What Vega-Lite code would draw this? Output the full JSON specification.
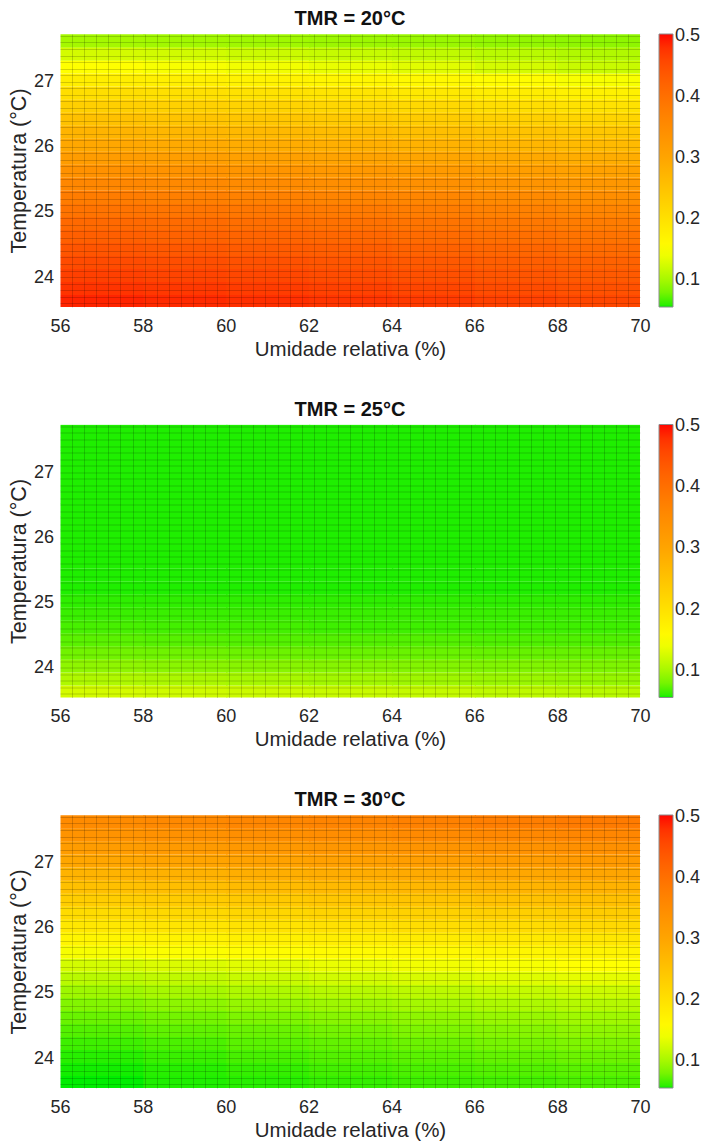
{
  "$schema": "https://vega.github.io/schema/vega-lite/v6.json",
  "background": "white",
  "padding": {"left": 8, "top": 9, "right": 2, "bottom": 0},
  "spacing": 39.5,
  "config": {
    "font": "Liberation Sans",
    "view": {"stroke": null},
    "axis": {"labelFont": "Liberation Sans", "labelFontSize": 18, "labelColor": "#262626", "titleFont": "Liberation Sans", "titleFontSize": 20.5, "titleFontWeight": "normal", "titleColor": "#262626", "domain": false, "ticks": false, "tickSize": 0, "labelFlush": false},
    "axisLeft": {"titleFontSize": 21.5},
    "legend": {"labelFont": "Liberation Sans", "labelFontSize": 18, "labelColor": "#262626", "labelOffset": 4, "offset": 19, "padding": 0, "gradientStrokeColor": "#8c8c8c", "gradientStrokeWidth": 1, "labelOverlap": false},
    "title": {"font": "Liberation Sans", "fontSize": 20, "fontWeight": "bold", "color": "#111111", "offset": 5, "baseline": "bottom", "anchor": "middle"}
  },
  "datasets": {
    "a": [
      {"h":56,"t":23.53,"v":0.49},{"h":58,"t":23.53,"v":0.486},{"h":60,"t":23.53,"v":0.482},{"h":62,"t":23.53,"v":0.477},{"h":64,"t":23.53,"v":0.472},{"h":66,"t":23.53,"v":0.465},{"h":68,"t":23.53,"v":0.458},
      {"h":56,"t":23.73,"v":0.478},{"h":58,"t":23.73,"v":0.474},{"h":60,"t":23.73,"v":0.47},{"h":62,"t":23.73,"v":0.465},{"h":64,"t":23.73,"v":0.46},{"h":66,"t":23.73,"v":0.453},{"h":68,"t":23.73,"v":0.446},
      {"h":56,"t":23.93,"v":0.466},{"h":58,"t":23.93,"v":0.462},{"h":60,"t":23.93,"v":0.458},{"h":62,"t":23.93,"v":0.453},{"h":64,"t":23.93,"v":0.448},{"h":66,"t":23.93,"v":0.441},{"h":68,"t":23.93,"v":0.434},
      {"h":56,"t":24.13,"v":0.454},{"h":58,"t":24.13,"v":0.45},{"h":60,"t":24.13,"v":0.446},{"h":62,"t":24.13,"v":0.441},{"h":64,"t":24.13,"v":0.436},{"h":66,"t":24.13,"v":0.429},{"h":68,"t":24.13,"v":0.422},
      {"h":56,"t":24.33,"v":0.441},{"h":58,"t":24.33,"v":0.437},{"h":60,"t":24.33,"v":0.433},{"h":62,"t":24.33,"v":0.428},{"h":64,"t":24.33,"v":0.423},{"h":66,"t":24.33,"v":0.416},{"h":68,"t":24.33,"v":0.409},
      {"h":56,"t":24.53,"v":0.427},{"h":58,"t":24.53,"v":0.423},{"h":60,"t":24.53,"v":0.419},{"h":62,"t":24.53,"v":0.414},{"h":64,"t":24.53,"v":0.409},{"h":66,"t":24.53,"v":0.402},{"h":68,"t":24.53,"v":0.395},
      {"h":56,"t":24.73,"v":0.412},{"h":58,"t":24.73,"v":0.408},{"h":60,"t":24.73,"v":0.404},{"h":62,"t":24.73,"v":0.399},{"h":64,"t":24.73,"v":0.394},{"h":66,"t":24.73,"v":0.387},{"h":68,"t":24.73,"v":0.38},
      {"h":56,"t":24.93,"v":0.396},{"h":58,"t":24.93,"v":0.392},{"h":60,"t":24.93,"v":0.388},{"h":62,"t":24.93,"v":0.383},{"h":64,"t":24.93,"v":0.378},{"h":66,"t":24.93,"v":0.371},{"h":68,"t":24.93,"v":0.364},
      {"h":56,"t":25.13,"v":0.379},{"h":58,"t":25.13,"v":0.375},{"h":60,"t":25.13,"v":0.371},{"h":62,"t":25.13,"v":0.366},{"h":64,"t":25.13,"v":0.361},{"h":66,"t":25.13,"v":0.354},{"h":68,"t":25.13,"v":0.347},
      {"h":56,"t":25.33,"v":0.36},{"h":58,"t":25.33,"v":0.356},{"h":60,"t":25.33,"v":0.352},{"h":62,"t":25.33,"v":0.347},{"h":64,"t":25.33,"v":0.342},{"h":66,"t":25.33,"v":0.335},{"h":68,"t":25.33,"v":0.328},
      {"h":56,"t":25.53,"v":0.34},{"h":58,"t":25.53,"v":0.336},{"h":60,"t":25.53,"v":0.332},{"h":62,"t":25.53,"v":0.327},{"h":64,"t":25.53,"v":0.322},{"h":66,"t":25.53,"v":0.315},{"h":68,"t":25.53,"v":0.308},
      {"h":56,"t":25.73,"v":0.318},{"h":58,"t":25.73,"v":0.314},{"h":60,"t":25.73,"v":0.31},{"h":62,"t":25.73,"v":0.305},{"h":64,"t":25.73,"v":0.3},{"h":66,"t":25.73,"v":0.293},{"h":68,"t":25.73,"v":0.286},
      {"h":56,"t":25.93,"v":0.296},{"h":58,"t":25.93,"v":0.292},{"h":60,"t":25.93,"v":0.288},{"h":62,"t":25.93,"v":0.283},{"h":64,"t":25.93,"v":0.278},{"h":66,"t":25.93,"v":0.271},{"h":68,"t":25.93,"v":0.264},
      {"h":56,"t":26.13,"v":0.274},{"h":58,"t":26.13,"v":0.27},{"h":60,"t":26.13,"v":0.266},{"h":62,"t":26.13,"v":0.261},{"h":64,"t":26.13,"v":0.256},{"h":66,"t":26.13,"v":0.249},{"h":68,"t":26.13,"v":0.242},
      {"h":56,"t":26.33,"v":0.252},{"h":58,"t":26.33,"v":0.248},{"h":60,"t":26.33,"v":0.244},{"h":62,"t":26.33,"v":0.239},{"h":64,"t":26.33,"v":0.234},{"h":66,"t":26.33,"v":0.227},{"h":68,"t":26.33,"v":0.22},
      {"h":56,"t":26.53,"v":0.23},{"h":58,"t":26.53,"v":0.226},{"h":60,"t":26.53,"v":0.222},{"h":62,"t":26.53,"v":0.217},{"h":64,"t":26.53,"v":0.212},{"h":66,"t":26.53,"v":0.205},{"h":68,"t":26.53,"v":0.198},
      {"h":56,"t":26.73,"v":0.205},{"h":58,"t":26.73,"v":0.201},{"h":60,"t":26.73,"v":0.197},{"h":62,"t":26.73,"v":0.192},{"h":64,"t":26.73,"v":0.187},{"h":66,"t":26.73,"v":0.18},{"h":68,"t":26.73,"v":0.173},
      {"h":56,"t":26.93,"v":0.178},{"h":58,"t":26.93,"v":0.174},{"h":60,"t":26.93,"v":0.17},{"h":62,"t":26.93,"v":0.165},{"h":64,"t":26.93,"v":0.16},{"h":66,"t":26.93,"v":0.153},{"h":68,"t":26.93,"v":0.146},
      {"h":56,"t":27.13,"v":0.15},{"h":58,"t":27.13,"v":0.146},{"h":60,"t":27.13,"v":0.142},{"h":62,"t":27.13,"v":0.137},{"h":64,"t":27.13,"v":0.132},{"h":66,"t":27.13,"v":0.125},{"h":68,"t":27.13,"v":0.118},
      {"h":56,"t":27.33,"v":0.125},{"h":58,"t":27.33,"v":0.123},{"h":60,"t":27.33,"v":0.12},{"h":62,"t":27.33,"v":0.117},{"h":64,"t":27.33,"v":0.114},{"h":66,"t":27.33,"v":0.11},{"h":68,"t":27.33,"v":0.106},
      {"h":56,"t":27.53,"v":0.1},{"h":58,"t":27.53,"v":0.099},{"h":60,"t":27.53,"v":0.098},{"h":62,"t":27.53,"v":0.096},{"h":64,"t":27.53,"v":0.095},{"h":66,"t":27.53,"v":0.092},{"h":68,"t":27.53,"v":0.09}
    ],
    "b": [
      {"h":56,"t":23.53,"v":0.125},{"h":58,"t":23.53,"v":0.122},{"h":60,"t":23.53,"v":0.12},{"h":62,"t":23.53,"v":0.118},{"h":64,"t":23.53,"v":0.116},{"h":66,"t":23.53,"v":0.113},{"h":68,"t":23.53,"v":0.11},
      {"h":56,"t":23.73,"v":0.105},{"h":58,"t":23.73,"v":0.103},{"h":60,"t":23.73,"v":0.101},{"h":62,"t":23.73,"v":0.099},{"h":64,"t":23.73,"v":0.097},{"h":66,"t":23.73,"v":0.095},{"h":68,"t":23.73,"v":0.093},
      {"h":56,"t":23.93,"v":0.09},{"h":58,"t":23.93,"v":0.088},{"h":60,"t":23.93,"v":0.087},{"h":62,"t":23.93,"v":0.086},{"h":64,"t":23.93,"v":0.085},{"h":66,"t":23.93,"v":0.084},{"h":68,"t":23.93,"v":0.083},
      {"h":56,"t":24.13,"v":0.078},{"h":58,"t":24.13,"v":0.077},{"h":60,"t":24.13,"v":0.076},{"h":62,"t":24.13,"v":0.075},{"h":64,"t":24.13,"v":0.075},{"h":66,"t":24.13,"v":0.074},{"h":68,"t":24.13,"v":0.074},
      {"h":56,"t":24.33,"v":0.07},{"h":58,"t":24.33,"v":0.069},{"h":60,"t":24.33,"v":0.068},{"h":62,"t":24.33,"v":0.068},{"h":64,"t":24.33,"v":0.068},{"h":66,"t":24.33,"v":0.067},{"h":68,"t":24.33,"v":0.067},
      {"h":56,"t":24.53,"v":0.065},{"h":58,"t":24.53,"v":0.064},{"h":60,"t":24.53,"v":0.064},{"h":62,"t":24.53,"v":0.063},{"h":64,"t":24.53,"v":0.063},{"h":66,"t":24.53,"v":0.063},{"h":68,"t":24.53,"v":0.063},
      {"h":56,"t":24.73,"v":0.062},{"h":58,"t":24.73,"v":0.062},{"h":60,"t":24.73,"v":0.062},{"h":62,"t":24.73,"v":0.062},{"h":64,"t":24.73,"v":0.062},{"h":66,"t":24.73,"v":0.062},{"h":68,"t":24.73,"v":0.062},
      {"h":56,"t":24.93,"v":0.06},{"h":58,"t":24.93,"v":0.06},{"h":60,"t":24.93,"v":0.06},{"h":62,"t":24.93,"v":0.06},{"h":64,"t":24.93,"v":0.06},{"h":66,"t":24.93,"v":0.06},{"h":68,"t":24.93,"v":0.06},
      {"h":56,"t":25.13,"v":0.058},{"h":58,"t":25.13,"v":0.058},{"h":60,"t":25.13,"v":0.058},{"h":62,"t":25.13,"v":0.058},{"h":64,"t":25.13,"v":0.058},{"h":66,"t":25.13,"v":0.058},{"h":68,"t":25.13,"v":0.058},
      {"h":56,"t":25.33,"v":0.058},{"h":58,"t":25.33,"v":0.058},{"h":60,"t":25.33,"v":0.058},{"h":62,"t":25.33,"v":0.058},{"h":64,"t":25.33,"v":0.058},{"h":66,"t":25.33,"v":0.058},{"h":68,"t":25.33,"v":0.058},
      {"h":56,"t":25.53,"v":0.058},{"h":58,"t":25.53,"v":0.058},{"h":60,"t":25.53,"v":0.058},{"h":62,"t":25.53,"v":0.058},{"h":64,"t":25.53,"v":0.058},{"h":66,"t":25.53,"v":0.058},{"h":68,"t":25.53,"v":0.058},
      {"h":56,"t":25.73,"v":0.058},{"h":58,"t":25.73,"v":0.058},{"h":60,"t":25.73,"v":0.058},{"h":62,"t":25.73,"v":0.058},{"h":64,"t":25.73,"v":0.058},{"h":66,"t":25.73,"v":0.058},{"h":68,"t":25.73,"v":0.058},
      {"h":56,"t":25.93,"v":0.058},{"h":58,"t":25.93,"v":0.058},{"h":60,"t":25.93,"v":0.058},{"h":62,"t":25.93,"v":0.058},{"h":64,"t":25.93,"v":0.058},{"h":66,"t":25.93,"v":0.058},{"h":68,"t":25.93,"v":0.058},
      {"h":56,"t":26.13,"v":0.058},{"h":58,"t":26.13,"v":0.058},{"h":60,"t":26.13,"v":0.058},{"h":62,"t":26.13,"v":0.058},{"h":64,"t":26.13,"v":0.058},{"h":66,"t":26.13,"v":0.058},{"h":68,"t":26.13,"v":0.058},
      {"h":56,"t":26.33,"v":0.058},{"h":58,"t":26.33,"v":0.058},{"h":60,"t":26.33,"v":0.058},{"h":62,"t":26.33,"v":0.058},{"h":64,"t":26.33,"v":0.058},{"h":66,"t":26.33,"v":0.058},{"h":68,"t":26.33,"v":0.058},
      {"h":56,"t":26.53,"v":0.058},{"h":58,"t":26.53,"v":0.058},{"h":60,"t":26.53,"v":0.058},{"h":62,"t":26.53,"v":0.058},{"h":64,"t":26.53,"v":0.058},{"h":66,"t":26.53,"v":0.058},{"h":68,"t":26.53,"v":0.058},
      {"h":56,"t":26.73,"v":0.058},{"h":58,"t":26.73,"v":0.058},{"h":60,"t":26.73,"v":0.058},{"h":62,"t":26.73,"v":0.058},{"h":64,"t":26.73,"v":0.058},{"h":66,"t":26.73,"v":0.058},{"h":68,"t":26.73,"v":0.058},
      {"h":56,"t":26.93,"v":0.058},{"h":58,"t":26.93,"v":0.058},{"h":60,"t":26.93,"v":0.058},{"h":62,"t":26.93,"v":0.058},{"h":64,"t":26.93,"v":0.058},{"h":66,"t":26.93,"v":0.058},{"h":68,"t":26.93,"v":0.058},
      {"h":56,"t":27.13,"v":0.058},{"h":58,"t":27.13,"v":0.058},{"h":60,"t":27.13,"v":0.058},{"h":62,"t":27.13,"v":0.058},{"h":64,"t":27.13,"v":0.058},{"h":66,"t":27.13,"v":0.058},{"h":68,"t":27.13,"v":0.058},
      {"h":56,"t":27.33,"v":0.058},{"h":58,"t":27.33,"v":0.058},{"h":60,"t":27.33,"v":0.058},{"h":62,"t":27.33,"v":0.058},{"h":64,"t":27.33,"v":0.058},{"h":66,"t":27.33,"v":0.058},{"h":68,"t":27.33,"v":0.058},
      {"h":56,"t":27.53,"v":0.058},{"h":58,"t":27.53,"v":0.058},{"h":60,"t":27.53,"v":0.058},{"h":62,"t":27.53,"v":0.058},{"h":64,"t":27.53,"v":0.058},{"h":66,"t":27.53,"v":0.058},{"h":68,"t":27.53,"v":0.058}
    ],
    "c": [
      {"h":56,"t":23.53,"v":0.056},{"h":58,"t":23.53,"v":0.058},{"h":60,"t":23.53,"v":0.059},{"h":62,"t":23.53,"v":0.061},{"h":64,"t":23.53,"v":0.063},{"h":66,"t":23.53,"v":0.064},{"h":68,"t":23.53,"v":0.066},
      {"h":56,"t":23.73,"v":0.057},{"h":58,"t":23.73,"v":0.059},{"h":60,"t":23.73,"v":0.061},{"h":62,"t":23.73,"v":0.064},{"h":64,"t":23.73,"v":0.066},{"h":66,"t":23.73,"v":0.068},{"h":68,"t":23.73,"v":0.07},
      {"h":56,"t":23.93,"v":0.059},{"h":58,"t":23.93,"v":0.062},{"h":60,"t":23.93,"v":0.065},{"h":62,"t":23.93,"v":0.068},{"h":64,"t":23.93,"v":0.07},{"h":66,"t":23.93,"v":0.073},{"h":68,"t":23.93,"v":0.076},
      {"h":56,"t":24.13,"v":0.063},{"h":58,"t":24.13,"v":0.066},{"h":60,"t":24.13,"v":0.07},{"h":62,"t":24.13,"v":0.073},{"h":64,"t":24.13,"v":0.076},{"h":66,"t":24.13,"v":0.08},{"h":68,"t":24.13,"v":0.083},
      {"h":56,"t":24.33,"v":0.068},{"h":58,"t":24.33,"v":0.072},{"h":60,"t":24.33,"v":0.075},{"h":62,"t":24.33,"v":0.079},{"h":64,"t":24.33,"v":0.083},{"h":66,"t":24.33,"v":0.086},{"h":68,"t":24.33,"v":0.09},
      {"h":56,"t":24.53,"v":0.075},{"h":58,"t":24.53,"v":0.079},{"h":60,"t":24.53,"v":0.083},{"h":62,"t":24.53,"v":0.087},{"h":64,"t":24.53,"v":0.09},{"h":66,"t":24.53,"v":0.094},{"h":68,"t":24.53,"v":0.098},
      {"h":56,"t":24.73,"v":0.085},{"h":58,"t":24.73,"v":0.089},{"h":60,"t":24.73,"v":0.093},{"h":62,"t":24.73,"v":0.097},{"h":64,"t":24.73,"v":0.1},{"h":66,"t":24.73,"v":0.104},{"h":68,"t":24.73,"v":0.108},
      {"h":56,"t":24.93,"v":0.097},{"h":58,"t":24.93,"v":0.101},{"h":60,"t":24.93,"v":0.105},{"h":62,"t":24.93,"v":0.109},{"h":64,"t":24.93,"v":0.112},{"h":66,"t":24.93,"v":0.116},{"h":68,"t":24.93,"v":0.12},
      {"h":56,"t":25.13,"v":0.11},{"h":58,"t":25.13,"v":0.114},{"h":60,"t":25.13,"v":0.118},{"h":62,"t":25.13,"v":0.123},{"h":64,"t":25.13,"v":0.127},{"h":66,"t":25.13,"v":0.131},{"h":68,"t":25.13,"v":0.135},
      {"h":56,"t":25.33,"v":0.125},{"h":58,"t":25.33,"v":0.129},{"h":60,"t":25.33,"v":0.133},{"h":62,"t":25.33,"v":0.138},{"h":64,"t":25.33,"v":0.142},{"h":66,"t":25.33,"v":0.146},{"h":68,"t":25.33,"v":0.15},
      {"h":56,"t":25.53,"v":0.145},{"h":58,"t":25.53,"v":0.149},{"h":60,"t":25.53,"v":0.153},{"h":62,"t":25.53,"v":0.157},{"h":64,"t":25.53,"v":0.16},{"h":66,"t":25.53,"v":0.164},{"h":68,"t":25.53,"v":0.168},
      {"h":56,"t":25.73,"v":0.166},{"h":58,"t":25.73,"v":0.17},{"h":60,"t":25.73,"v":0.174},{"h":62,"t":25.73,"v":0.178},{"h":64,"t":25.73,"v":0.182},{"h":66,"t":25.73,"v":0.186},{"h":68,"t":25.73,"v":0.19},
      {"h":56,"t":25.93,"v":0.188},{"h":58,"t":25.93,"v":0.192},{"h":60,"t":25.93,"v":0.196},{"h":62,"t":25.93,"v":0.2},{"h":64,"t":25.93,"v":0.204},{"h":66,"t":25.93,"v":0.208},{"h":68,"t":25.93,"v":0.212},
      {"h":56,"t":26.13,"v":0.21},{"h":58,"t":26.13,"v":0.214},{"h":60,"t":26.13,"v":0.218},{"h":62,"t":26.13,"v":0.222},{"h":64,"t":26.13,"v":0.226},{"h":66,"t":26.13,"v":0.23},{"h":68,"t":26.13,"v":0.234},
      {"h":56,"t":26.33,"v":0.232},{"h":58,"t":26.33,"v":0.236},{"h":60,"t":26.33,"v":0.24},{"h":62,"t":26.33,"v":0.244},{"h":64,"t":26.33,"v":0.248},{"h":66,"t":26.33,"v":0.252},{"h":68,"t":26.33,"v":0.256},
      {"h":56,"t":26.53,"v":0.254},{"h":58,"t":26.53,"v":0.258},{"h":60,"t":26.53,"v":0.262},{"h":62,"t":26.53,"v":0.266},{"h":64,"t":26.53,"v":0.27},{"h":66,"t":26.53,"v":0.274},{"h":68,"t":26.53,"v":0.278},
      {"h":56,"t":26.73,"v":0.276},{"h":58,"t":26.73,"v":0.28},{"h":60,"t":26.73,"v":0.284},{"h":62,"t":26.73,"v":0.288},{"h":64,"t":26.73,"v":0.292},{"h":66,"t":26.73,"v":0.296},{"h":68,"t":26.73,"v":0.3},
      {"h":56,"t":26.93,"v":0.298},{"h":58,"t":26.93,"v":0.302},{"h":60,"t":26.93,"v":0.306},{"h":62,"t":26.93,"v":0.31},{"h":64,"t":26.93,"v":0.314},{"h":66,"t":26.93,"v":0.318},{"h":68,"t":26.93,"v":0.322},
      {"h":56,"t":27.13,"v":0.318},{"h":58,"t":27.13,"v":0.322},{"h":60,"t":27.13,"v":0.326},{"h":62,"t":27.13,"v":0.331},{"h":64,"t":27.13,"v":0.335},{"h":66,"t":27.13,"v":0.339},{"h":68,"t":27.13,"v":0.343},
      {"h":56,"t":27.33,"v":0.336},{"h":58,"t":27.33,"v":0.34},{"h":60,"t":27.33,"v":0.344},{"h":62,"t":27.33,"v":0.349},{"h":64,"t":27.33,"v":0.354},{"h":66,"t":27.33,"v":0.358},{"h":68,"t":27.33,"v":0.362},
      {"h":56,"t":27.53,"v":0.352},{"h":58,"t":27.53,"v":0.356},{"h":60,"t":27.53,"v":0.361},{"h":62,"t":27.53,"v":0.366},{"h":64,"t":27.53,"v":0.371},{"h":66,"t":27.53,"v":0.376},{"h":68,"t":27.53,"v":0.381}
    ]
  },
  "vconcat": [
    {
      "width": 580, "height": 273,
      "title": {"text": "TMR = 20°C"},
      "data": {"name": "a"},
      "layer": [
        {
          "mark": {"type": "rect", "binSpacing": 0, "clip": true},
          "encoding": {
            "x": {"field": "h", "type": "quantitative", "bin": {"binned": true, "step": 2.03}, "scale": {"domain": [56, 70], "nice": false, "zero": false},
              "axis": {"orient": "top", "values": [56.2917,56.5833,56.875,57.1667,57.4583,57.75,58.0417,58.3333,58.625,58.9167,59.2083,59.5,59.7917,60.0833,60.375,60.6667,60.9583,61.25,61.5417,61.8333,62.125,62.4167,62.7083,63,63.2917,63.5833,63.875,64.1667,64.4583,64.75,65.0417,65.3333,65.625,65.9167,66.2083,66.5,66.7917,67.0833,67.375,67.6667,67.9583,68.25,68.5417,68.8333,69.125,69.4167,69.7083], "grid": true, "gridColor": "#000000", "gridOpacity": 0.22, "gridWidth": 0.8, "labels": false, "ticks": false, "domain": false, "title": null, "zindex": 1, "maxExtent": 0, "minExtent": 0}},
            "y": {"field": "t", "type": "quantitative", "bin": {"binned": true, "step": 0.203}, "scale": {"domain": [23.54, 27.73], "nice": false, "zero": false},
              "axis": {"orient": "right", "values": [23.6,23.7,23.8,23.9,24,24.1,24.2,24.3,24.4,24.5,24.6,24.7,24.8,24.9,25,25.1,25.2,25.3,25.4,25.5,25.6,25.7,25.8,25.9,26,26.1,26.2,26.3,26.4,26.5,26.6,26.7,26.8,26.9,27,27.1,27.2,27.3,27.4,27.5,27.6,27.7], "grid": true, "gridColor": "#000000", "gridOpacity": 0.22, "gridWidth": 0.8, "labels": false, "ticks": false, "domain": false, "title": null, "zindex": 1, "maxExtent": 0, "minExtent": 0}},
            "color": {"field": "v", "type": "quantitative", "scale": {"domain": [0.056, 0.15, 0.3, 0.503], "range": ["#00ee00", "#ffff00", "#ffa500", "#ff0000"]},
              "legend": {"type": "gradient", "direction": "vertical", "title": null, "values": [0.1, 0.2, 0.3, 0.4, 0.5], "format": ".1f", "gradientLength": 273, "gradientThickness": 14, "labelBaseline": "middle"}}
          }
        },
        {
          "mark": {"type": "rect", "binSpacing": 0, "opacity": 0, "clip": true},
          "encoding": {
            "x": {"field": "h", "type": "quantitative", "bin": {"binned": true, "step": 2}, "axis": {"orient": "bottom", "values": [56, 58, 60, 62, 64, 66, 68, 70], "grid": false, "title": "Umidade relativa (%)", "labelPadding": 10, "titlePadding": 4, "format": "d"}},
            "y": {"field": "t", "type": "quantitative", "bin": {"binned": true, "step": 0.2}, "axis": {"orient": "left", "values": [24, 25, 26, 27], "grid": false, "title": "Temperatura (°C)", "labelPadding": 6.5, "titlePadding": 3, "format": "d"}}
          }
        }
      ],
      "resolve": {"axis": {"x": "independent", "y": "independent"}}
    },
    {
      "width": 580, "height": 273,
      "title": {"text": "TMR = 25°C"},
      "data": {"name": "b"},
      "layer": [
        {
          "mark": {"type": "rect", "binSpacing": 0, "clip": true},
          "encoding": {
            "x": {"field": "h", "type": "quantitative", "bin": {"binned": true, "step": 2.03}, "scale": {"domain": [56, 70], "nice": false, "zero": false},
              "axis": {"orient": "top", "values": [56.2917,56.5833,56.875,57.1667,57.4583,57.75,58.0417,58.3333,58.625,58.9167,59.2083,59.5,59.7917,60.0833,60.375,60.6667,60.9583,61.25,61.5417,61.8333,62.125,62.4167,62.7083,63,63.2917,63.5833,63.875,64.1667,64.4583,64.75,65.0417,65.3333,65.625,65.9167,66.2083,66.5,66.7917,67.0833,67.375,67.6667,67.9583,68.25,68.5417,68.8333,69.125,69.4167,69.7083], "grid": true, "gridColor": "#000000", "gridOpacity": 0.22, "gridWidth": 0.8, "labels": false, "ticks": false, "domain": false, "title": null, "zindex": 1, "maxExtent": 0, "minExtent": 0}},
            "y": {"field": "t", "type": "quantitative", "bin": {"binned": true, "step": 0.203}, "scale": {"domain": [23.54, 27.73], "nice": false, "zero": false},
              "axis": {"orient": "right", "values": [23.6,23.7,23.8,23.9,24,24.1,24.2,24.3,24.4,24.5,24.6,24.7,24.8,24.9,25,25.1,25.2,25.3,25.4,25.5,25.6,25.7,25.8,25.9,26,26.1,26.2,26.3,26.4,26.5,26.6,26.7,26.8,26.9,27,27.1,27.2,27.3,27.4,27.5,27.6,27.7], "grid": true, "gridColor": "#000000", "gridOpacity": 0.22, "gridWidth": 0.8, "labels": false, "ticks": false, "domain": false, "title": null, "zindex": 1, "maxExtent": 0, "minExtent": 0}},
            "color": {"field": "v", "type": "quantitative", "scale": {"domain": [0.056, 0.15, 0.3, 0.503], "range": ["#00ee00", "#ffff00", "#ffa500", "#ff0000"]},
              "legend": {"type": "gradient", "direction": "vertical", "title": null, "values": [0.1, 0.2, 0.3, 0.4, 0.5], "format": ".1f", "gradientLength": 273, "gradientThickness": 14, "labelBaseline": "middle"}}
          }
        },
        {
          "mark": {"type": "rect", "binSpacing": 0, "opacity": 0, "clip": true},
          "encoding": {
            "x": {"field": "h", "type": "quantitative", "bin": {"binned": true, "step": 2}, "axis": {"orient": "bottom", "values": [56, 58, 60, 62, 64, 66, 68, 70], "grid": false, "title": "Umidade relativa (%)", "labelPadding": 10, "titlePadding": 4, "format": "d"}},
            "y": {"field": "t", "type": "quantitative", "bin": {"binned": true, "step": 0.2}, "axis": {"orient": "left", "values": [24, 25, 26, 27], "grid": false, "title": "Temperatura (°C)", "labelPadding": 6.5, "titlePadding": 3, "format": "d"}}
          }
        }
      ],
      "resolve": {"axis": {"x": "independent", "y": "independent"}}
    },
    {
      "width": 580, "height": 273,
      "title": {"text": "TMR = 30°C"},
      "data": {"name": "c"},
      "layer": [
        {
          "mark": {"type": "rect", "binSpacing": 0, "clip": true},
          "encoding": {
            "x": {"field": "h", "type": "quantitative", "bin": {"binned": true, "step": 2.03}, "scale": {"domain": [56, 70], "nice": false, "zero": false},
              "axis": {"orient": "top", "values": [56.2917,56.5833,56.875,57.1667,57.4583,57.75,58.0417,58.3333,58.625,58.9167,59.2083,59.5,59.7917,60.0833,60.375,60.6667,60.9583,61.25,61.5417,61.8333,62.125,62.4167,62.7083,63,63.2917,63.5833,63.875,64.1667,64.4583,64.75,65.0417,65.3333,65.625,65.9167,66.2083,66.5,66.7917,67.0833,67.375,67.6667,67.9583,68.25,68.5417,68.8333,69.125,69.4167,69.7083], "grid": true, "gridColor": "#000000", "gridOpacity": 0.22, "gridWidth": 0.8, "labels": false, "ticks": false, "domain": false, "title": null, "zindex": 1, "maxExtent": 0, "minExtent": 0}},
            "y": {"field": "t", "type": "quantitative", "bin": {"binned": true, "step": 0.203}, "scale": {"domain": [23.54, 27.73], "nice": false, "zero": false},
              "axis": {"orient": "right", "values": [23.6,23.7,23.8,23.9,24,24.1,24.2,24.3,24.4,24.5,24.6,24.7,24.8,24.9,25,25.1,25.2,25.3,25.4,25.5,25.6,25.7,25.8,25.9,26,26.1,26.2,26.3,26.4,26.5,26.6,26.7,26.8,26.9,27,27.1,27.2,27.3,27.4,27.5,27.6,27.7], "grid": true, "gridColor": "#000000", "gridOpacity": 0.22, "gridWidth": 0.8, "labels": false, "ticks": false, "domain": false, "title": null, "zindex": 1, "maxExtent": 0, "minExtent": 0}},
            "color": {"field": "v", "type": "quantitative", "scale": {"domain": [0.056, 0.15, 0.3, 0.503], "range": ["#00ee00", "#ffff00", "#ffa500", "#ff0000"]},
              "legend": {"type": "gradient", "direction": "vertical", "title": null, "values": [0.1, 0.2, 0.3, 0.4, 0.5], "format": ".1f", "gradientLength": 273, "gradientThickness": 14, "labelBaseline": "middle"}}
          }
        },
        {
          "mark": {"type": "rect", "binSpacing": 0, "opacity": 0, "clip": true},
          "encoding": {
            "x": {"field": "h", "type": "quantitative", "bin": {"binned": true, "step": 2}, "axis": {"orient": "bottom", "values": [56, 58, 60, 62, 64, 66, 68, 70], "grid": false, "title": "Umidade relativa (%)", "labelPadding": 10, "titlePadding": 4, "format": "d"}},
            "y": {"field": "t", "type": "quantitative", "bin": {"binned": true, "step": 0.2}, "axis": {"orient": "left", "values": [24, 25, 26, 27], "grid": false, "title": "Temperatura (°C)", "labelPadding": 6.5, "titlePadding": 3, "format": "d"}}
          }
        }
      ],
      "resolve": {"axis": {"x": "independent", "y": "independent"}}
    }
  ],
  "resolve": {"scale": {"color": "independent", "x": "independent", "y": "independent"}, "legend": {"color": "independent"}}
}
